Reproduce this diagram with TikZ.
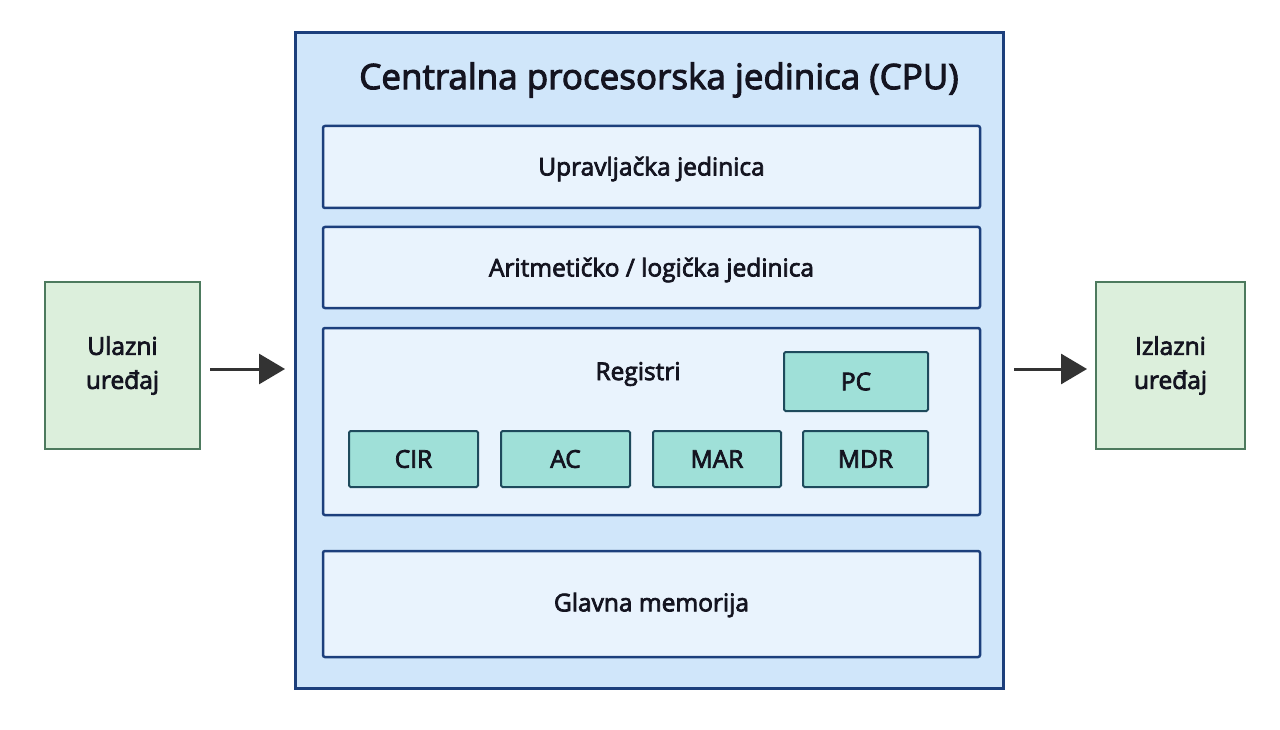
\documentclass[tikz,border=0pt]{standalone}
\usepackage{fontspec}
\setmainfont{Open Sans}[FakeBold=3]
\usetikzlibrary{arrows.meta}
\definecolor{cpufill}{HTML}{D0E6FA}
\definecolor{navy}{HTML}{1C3F7C}
\definecolor{unitfill}{HTML}{E9F3FD}
\definecolor{regfill}{HTML}{9FE0D8}
\definecolor{regborder}{HTML}{1E4A5C}
\definecolor{iofill}{HTML}{DCEFDC}
\definecolor{ioborder}{HTML}{4D7A5E}
\definecolor{txt}{HTML}{141420}
\definecolor{arr}{HTML}{333333}
\tikzset{
  every node/.style={text=txt},
  unitbox/.style={draw=navy, line width=2.5pt, fill=unitfill, rounded corners=2pt},
  regbox/.style={draw=regborder, line width=2pt, fill=regfill, rounded corners=1.5pt},
  iobox/.style={draw=ioborder, line width=1.8pt, fill=iofill},
  lbl/.style={font=\fontsize{24.5}{34}\selectfont},
  flow/.style={draw=arr, line width=3pt, -{Triangle[length=26pt,width=30pt]}},
}
\begin{document}
\begin{tikzpicture}[x=1pt,y=-1pt]
\useasboundingbox (0,0) rectangle (1280,730);
\fill[white] (0,0) rectangle (1280,730);
% CPU
\draw[draw=navy, line width=3pt, fill=cpufill] (295,33) rectangle (1003,688);
\node[font=\fontsize{35}{40}\selectfont] (title) at (659,80) {Centralna procesorska jedinica (CPU)};
% units
\draw[unitbox] (323,126) rectangle (980,208);
\node[lbl] (cu) at (651.5,169) {Upravljačka jedinica};
\draw[unitbox] (323,227) rectangle (980,308);
\node[lbl] (alu) at (651.5,270) {Aritmetičko / logička jedinica};
\draw[unitbox] (323,328) rectangle (980,515);
\node[lbl] (reg) at (638,374) {Registri};
\draw[unitbox] (323,551) rectangle (980,657);
\node[lbl] (mem) at (651.5,605) {Glavna memorija};
% registers
\node[regbox, lbl, minimum width=144pt, minimum height=59pt] (pc) at (856,381.5) {PC};
\node[regbox, lbl, minimum width=129pt, minimum height=56pt] (cir) at (413.5,459) {CIR};
\node[regbox, lbl, minimum width=129pt, minimum height=56pt] (ac) at (565.5,459) {AC};
\node[regbox, lbl, minimum width=128pt, minimum height=56pt] (mar) at (717,459) {MAR};
\node[regbox, lbl, minimum width=125pt, minimum height=56pt] (mdr) at (865.5,459) {MDR};
% IO
\node[iobox, lbl, minimum width=155pt, minimum height=167pt, align=center] (in) at (122.5,365.5) {Ulazni\\uređaj};
\node[iobox, lbl, minimum width=149pt, minimum height=167pt, align=center] (out) at (1170.5,365.5) {Izlazni\\uređaj};
\coordinate (inA) at (210,369);
\coordinate (inB) at (285,369);
\coordinate (outA) at (1014,369);
\coordinate (outB) at (1087,369);
\draw[flow] (inA) -- (inB);
\draw[flow] (outA) -- (outB);
\end{tikzpicture}
\end{document}
